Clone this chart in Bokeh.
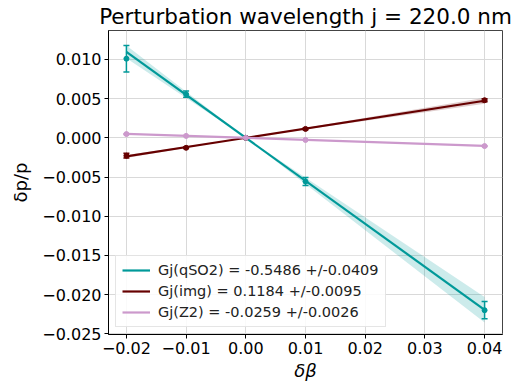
from bokeh.plotting import figure
from bokeh.models import (ColumnDataSource, Whisker, FixedTicker, CustomJSTickFormatter,
                          Range1d, Legend, LegendItem)
from bokeh.embed import file_html
from bokeh.resources import INLINE

# ---- data ----
x_vals = [-0.02, -0.01, 0.0, 0.01, 0.04]

qso2_y = [0.0101, 0.00557, 0.0, -0.00557, -0.0220]
qso2_err = [0.0017, 0.0004, 0.0, 0.0005, 0.0011]
qso2_slope, qso2_slope_err = -0.5486, 0.0409

img_y = [-0.00228, -0.00127, 0.0, 0.00114, 0.0048]
img_err = [0.0003, 0.0001, 0.0, 0.0001, 0.0002]
img_slope, img_slope_err = 0.1184, 0.0095

z2_y = [0.00048, 0.00025, 0.0, -0.00027, -0.00105]
z2_err = [0.00005, 0.00003, 0.0, 0.00003, 0.00005]
z2_slope, z2_slope_err = -0.0259, 0.0026

labels = ["Gj(qSO2) = -0.5486 +/-0.0409",
          "Gj(img) = 0.1184 +/-0.0095",
          "Gj(Z2) = -0.0259 +/-0.0026"]
colors = ["#009999", "#660000", "#cc99cc"]

x_ticks = [-0.02, -0.01, 0.0, 0.01, 0.02, 0.03, 0.04]
y_ticks = [0.010, 0.005, 0.0, -0.005, -0.010, -0.015, -0.020, -0.025]

FONT = "DejaVu Sans"

p = figure(width=514, height=390, output_backend="svg", toolbar_location=None,
           x_range=Range1d(-0.023, 0.043), y_range=Range1d(-0.0251, 0.0137),
           min_border_left=108, min_border_right=12, min_border_top=29, min_border_bottom=56)

p.title.text = "Perturbation wavelength j = 220.0 nm"
p.title.align = "center"
p.title.text_font = FONT
p.title.text_font_size = "21.5px"
p.title.text_font_style = "normal"
p.title.text_color = "black"
p.title.offset = 0
p.title.standoff = 3

p.outline_line_color = "#444444"
p.outline_line_width = 1
p.background_fill_color = "white"

for g in (p.xgrid, p.ygrid):
    g.grid_line_color = "#d9d9d9"
    g.grid_line_width = 1

p.xaxis.ticker = FixedTicker(ticks=x_ticks)
p.yaxis.ticker = FixedTicker(ticks=y_ticks)
p.xaxis.formatter = CustomJSTickFormatter(code="""
    const s = Math.abs(tick).toFixed(2);
    return (tick < -1e-12 ? '\u2212' : '') + s;
""")
p.yaxis.formatter = CustomJSTickFormatter(code="""
    const s = Math.abs(tick).toFixed(3);
    return (tick < -1e-12 ? '\u2212' : '') + s;
""")
for ax in (p.xaxis, p.yaxis):
    ax.major_label_text_font = FONT
    ax.major_label_text_font_size = "16px"
    ax.major_label_text_color = "black"
    ax.axis_line_color = "black"
    ax.major_tick_line_color = "black"
    ax.major_tick_in = 0
    ax.major_tick_out = 4
    ax.minor_tick_line_color = None
    ax.axis_label_text_font = FONT
    ax.axis_label_text_font_size = "18px"
    ax.axis_label_text_color = "black"
    ax.axis_label_text_font_style = "normal"
    ax.major_label_standoff = 3

p.xaxis.axis_label = "δβ"
p.xaxis.axis_label_text_font_style = "italic"
p.xaxis.axis_label_standoff = 3
p.yaxis.axis_label = "δp/p"
p.yaxis.axis_label_standoff = 8

series = [
    (qso2_y, qso2_err, qso2_slope, qso2_slope_err),
    (img_y, img_err, img_slope, img_slope_err),
    (z2_y, z2_err, z2_slope, z2_slope_err),
]

fit_x = [x_vals[0], x_vals[-1]]
items = []
for (ys, errs, slope, serr), col, lab in zip(series, colors, labels):
    # band between (slope-serr)*x and (slope+serr)*x, through origin
    band_x = [x_vals[0], 0.0, x_vals[-1]]
    y1 = [(slope - serr) * xx for xx in band_x]
    y2 = [(slope + serr) * xx for xx in band_x]
    p.varea(x=band_x, y1=y1, y2=y2, fill_color=col, fill_alpha=0.2)
    r = p.line(x=fit_x, y=[slope * xx for xx in fit_x], line_color=col, line_width=2.2)
    items.append(LegendItem(label=lab, renderers=[r]))
    src = ColumnDataSource(dict(x=x_vals, y=ys,
                                lower=[a - b for a, b in zip(ys, errs)],
                                upper=[a + b for a, b in zip(ys, errs)]))
    p.scatter("x", "y", source=src, size=5, color=col)
    w = Whisker(base="x", lower="lower", upper="upper", source=src,
                line_color=col, line_width=1.5)
    w.upper_head.size = 6
    w.lower_head.size = 6
    w.upper_head.line_color = col
    w.lower_head.line_color = col
    w.upper_head.line_width = 1.5
    w.lower_head.line_width = 1.5
    p.add_layout(w)

legend = Legend(items=items, location="bottom_left")
legend.label_text_font = FONT
legend.label_text_font_size = "14.5px"
legend.label_text_color = "#222222"
legend.border_line_color = "#cccccc"
legend.border_line_width = 1
legend.background_fill_alpha = 0.85
legend.glyph_width = 28
legend.glyph_height = 16
legend.label_height = 16
legend.spacing = 5
legend.padding = 6
legend.margin = 7
legend.label_standoff = 8
p.add_layout(legend)

open("out.html", "w").write(file_html(p, INLINE))
